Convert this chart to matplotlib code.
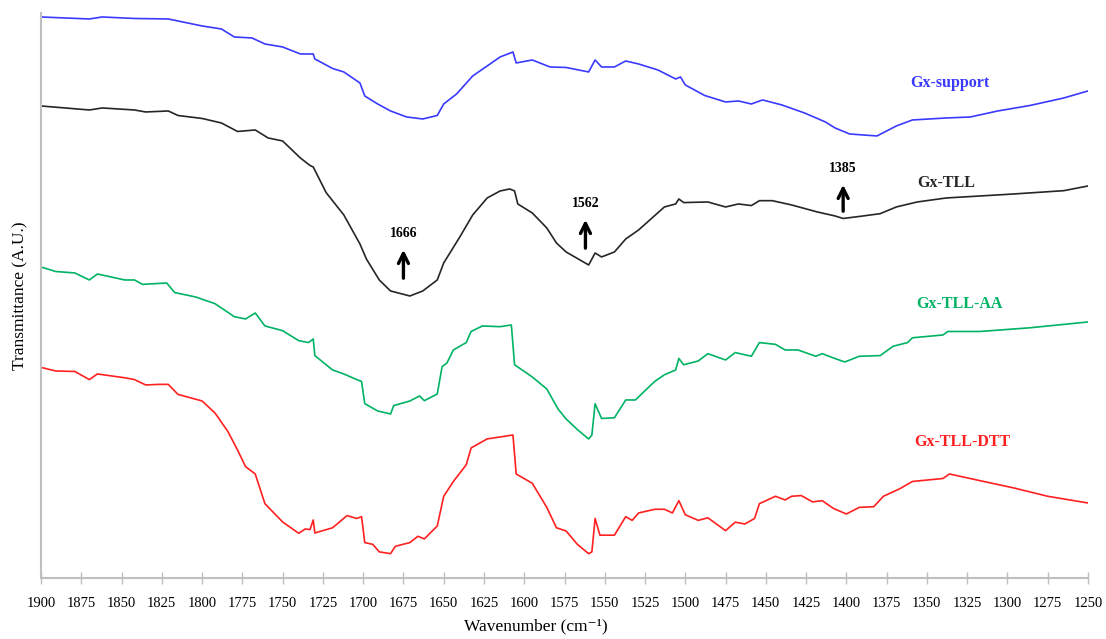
import numpy as np
import matplotlib
matplotlib.use("Agg")
import matplotlib.pyplot as plt

plt.rcParams["font.family"] = ["Liberation Serif", "DejaVu Serif"]

# FTIR spectra, transmittance in arbitrary units (offset stacked)
wn_support = [1900, 1870, 1862, 1842, 1821, 1800, 1788, 1780, 1769, 1761, 1750, 1739, 1731, 1730,
              1719, 1712, 1702, 1699, 1691, 1683, 1673, 1663, 1654, 1650, 1642, 1632, 1623, 1615,
              1607, 1605, 1595, 1584, 1574, 1560, 1556, 1552, 1544, 1537, 1529, 1517, 1506, 1503,
              1500, 1488, 1475, 1467, 1459, 1452, 1440, 1426, 1413, 1407, 1398, 1381, 1369, 1359,
              1338, 1323, 1306, 1286, 1265, 1250]
t_support = [561, 559, 561, 559.5, 559, 552, 549, 541, 540, 534, 531, 524, 524, 519,
             509.5, 506, 495, 482, 474, 467, 461, 459, 462.5, 474, 484, 502, 512, 521,
             526, 515, 518, 511, 510.5, 506, 518, 511, 511, 517, 514, 508, 499, 501,
             493, 482.5, 476, 477, 474, 478, 473, 465, 456, 450, 444, 442, 452, 458,
             460, 461, 467, 472.5, 480, 487]

wn_tll = [1900, 1870, 1862, 1842, 1835, 1821, 1815, 1800, 1788, 1778, 1767, 1759, 1750, 1739,
          1733, 1731, 1723, 1712, 1702, 1698, 1690, 1683, 1671, 1663, 1654, 1650, 1640, 1632,
          1623, 1615, 1609, 1606, 1604, 1595, 1586, 1580, 1574, 1560, 1556, 1552, 1544, 1537,
          1529, 1521, 1513, 1506, 1504, 1501, 1486, 1475, 1467, 1459, 1454, 1446, 1434, 1418,
          1407, 1402, 1393, 1379, 1369, 1356, 1338, 1317, 1296, 1265, 1250]
t_tll = [472, 468, 470, 468, 466, 467, 462.5, 459.5, 455, 446.5, 448, 440, 437, 420,
         412.5, 411, 385.4, 363, 334, 319, 298, 287, 282, 287, 298, 315, 341, 363,
         380, 387, 389, 387, 374, 365, 350, 335, 326, 313, 325, 321, 326, 339,
         348, 359.5, 371, 374, 379, 375.4, 376, 371, 374, 372.4, 377.3, 377.3, 373, 366,
         362, 359.5, 361.3, 364.3, 371, 376, 380, 382, 384, 387.3, 392]

wn_aa = [1900, 1891, 1879, 1870, 1865, 1848, 1842, 1837, 1822, 1817, 1804, 1792, 1780, 1773,
         1767, 1761, 1750, 1740, 1734, 1731, 1730, 1719, 1712, 1704, 1701, 1699, 1691, 1683,
         1681, 1671, 1665, 1662, 1654, 1651, 1648, 1644, 1636, 1633, 1626, 1615, 1608, 1606,
         1595, 1586, 1579, 1574, 1567, 1560, 1558, 1556, 1552, 1544, 1537, 1531, 1525, 1519,
         1513, 1506, 1504, 1501, 1492, 1486, 1475, 1469, 1459, 1454, 1444, 1438, 1430, 1419,
         1415, 1408, 1401, 1392, 1379, 1371, 1362, 1359, 1340, 1337, 1317, 1286, 1250]
t_aa = [311, 306.5, 305, 298, 304, 298, 298, 293.6, 295, 285.4, 281, 274.3, 261.3, 259,
        265, 252, 247.3, 237.3, 235.4, 239, 222.4, 208, 204, 198.4, 196.5, 174.3, 167, 164,
        172.4, 177, 182, 177.3, 184, 211.3, 215, 228, 235.4, 246.5, 252, 251.3, 253, 213.2,
        201, 189, 169, 159, 148.4, 139, 143, 174.3, 159.5, 160.2, 178, 178, 187.3, 196.5,
        203.2, 208, 219.5, 213.2, 217, 224.3, 218, 225.4, 221.7, 235.4, 233.6, 228, 228, 221.7,
        224.3, 220, 216, 221.7, 222.4, 231.7, 235.4, 240.2, 243, 246.5, 246.5, 250.2, 256]

wn_dtt = [1900, 1891, 1879, 1870, 1865, 1848, 1842, 1835, 1827, 1821, 1815, 1800, 1792, 1784,
          1778, 1773, 1767, 1761, 1750, 1740, 1736, 1733, 1731, 1730, 1719, 1710, 1704, 1701,
          1699, 1694, 1690, 1683, 1680, 1671, 1666, 1662, 1654, 1650, 1644, 1636, 1633, 1623,
          1615, 1607, 1605, 1595, 1586, 1580, 1574, 1567, 1560, 1558, 1556, 1553, 1544, 1537,
          1533, 1529, 1519, 1513, 1508, 1504, 1500, 1492, 1486, 1475, 1469, 1463, 1457, 1454,
          1444, 1438, 1434, 1428, 1421, 1415, 1408, 1400, 1392, 1383, 1377, 1367, 1359, 1340,
          1336, 1317, 1296, 1275, 1250]
t_dtt = [210.6, 207, 206.5, 198.4, 204, 200.2, 198.4, 193, 193.6, 193.6, 183.6, 177, 165, 146.5,
         128, 111.3, 104, 74.3, 56, 44.7, 49, 48.4, 58, 45, 50.2, 62.4, 59.5, 61.3,
         35.4, 33.6, 26.1, 24.3, 31.7, 35.4, 41.7, 39.1, 52, 81.7, 96.5, 113.2, 130, 139.1,
         141, 143, 104, 94.7, 70.6, 50.2, 47, 33.6, 24.3, 26.1, 59.5, 42.8, 42.8, 61.3,
         57.6, 65, 68.7, 68.7, 65, 77.3, 63.2, 57.6, 60.2, 47.3, 55.8, 54, 59.5, 74.3,
         81.7, 78, 81.7, 82.4, 76.1, 77.3, 69.5, 64, 70.6, 71.3, 81.7, 89.1, 96.5, 99.5,
         104, 97.3, 90, 81.7, 75]

series = [
    ("Gx-support", wn_support, t_support, "#3a3aff", (1336, 495)),
    ("Gx-TLL", wn_tll, t_tll, "#262626", (1338, 395)),
    ("Gx-TLL-AA", wn_aa, t_aa, "#00b364", (1330, 274)),
    ("Gx-TLL-DTT", wn_dtt, t_dtt, "#ff2020", (1328, 136)),
]

# band markers on Gx-TLL: (label, x position, arrow tail, arrow head)
peaks = [("1666", 1675, 297, 331), ("1562", 1562, 327, 361), ("1385", 1402, 364, 396)]

fig = plt.figure(figsize=(11.06, 6.39), dpi=100)
ax = fig.add_axes([0.0371, 0.0955, 0.9466, 0.8842])

for name, x, y, color, (lx, ly) in series:
    ax.plot(x, y, color=color, lw=1.2)
    ax.text(lx, ly, name, color=color, fontsize=11.5, fontweight="bold",
            ha="center", va="center")

for lab, x, y0, y1 in peaks:
    ax.annotate("", xy=(x, y1), xytext=(x, y0),
                arrowprops=dict(arrowstyle="->", color="black", lw=2.4, mutation_scale=18))
    ax.text(x, y1 + 7, lab, fontsize=10, fontweight="bold", ha="center", va="bottom")

ax.set_xlim(1900, 1250)
ax.set_ylim(0, 565)
ax.set_xticks(np.arange(1900, 1249, -25))
ax.set_yticks([])
ax.tick_params(axis="x", direction="inout", length=8, width=1, color="#bfbfbf",
               labelsize=10.5, pad=10)
for s in ["top", "right"]:
    ax.spines[s].set_visible(False)
for s in ["left", "bottom"]:
    ax.spines[s].set_color("#bfbfbf")
    ax.spines[s].set_linewidth(1.5)

ax.set_xlabel("Wavenumber (cm⁻¹)", fontsize=12.5)
ax.xaxis.set_label_coords(0.473, -0.072)
ax.set_ylabel("Transmittance (A.U.)", fontsize=12.5)
ax.yaxis.set_label_coords(-0.012, 0.5)

fig.savefig("out.png", dpi=100)
